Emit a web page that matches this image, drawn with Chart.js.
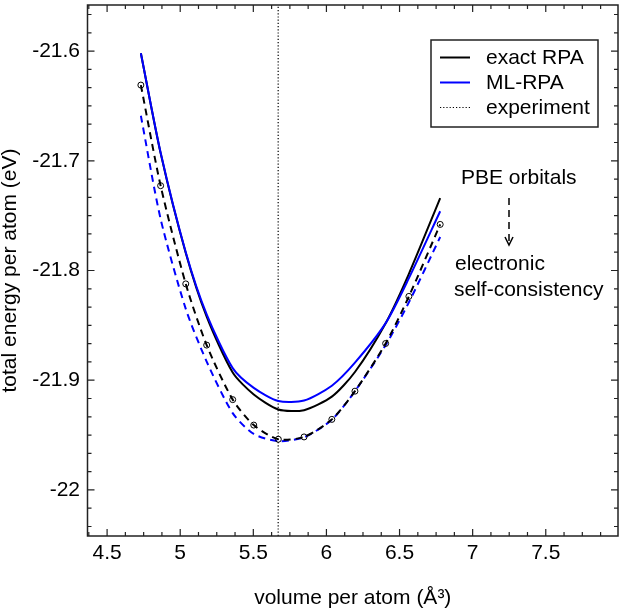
<!DOCTYPE html>
<html>
<head>
<meta charset="utf-8">
<script src="https://cdn.jsdelivr.net/npm/chart.js@4"></script>
<style>
  html, body { margin: 0; padding: 0; background: #fff; }
  #wrap { width: 623px; height: 612px; }
</style>
</head>
<body>
<div id="wrap"><canvas id="c" width="623" height="612"></canvas></div>
<script>
// ---------------- data ----------------
const volumes     = [4.731, 4.866, 5.038, 5.181, 5.359, 5.503, 5.671, 5.847, 6.037, 6.195, 6.405, 6.564, 6.778];
const exactRPA    = [-21.602, -21.693, -21.784, -21.842, -21.893, -21.913, -21.9267, -21.9273, -21.915, -21.8925, -21.848, -21.803, -21.734];
const mlRPA       = [-21.602, -21.6925, -21.7833, -21.840, -21.889, -21.907, -21.919, -21.9185, -21.905, -21.884, -21.848, -21.807, -21.746];
const exactRPAsc  = [-21.631, -21.7227, -21.8122, -21.868, -21.9177, -21.9409, -21.9538, -21.9517, -21.9357, -21.910, -21.8665, -21.8236, -21.758];
const mlRPAsc     = [-21.659, -21.753, -21.835, -21.883, -21.930, -21.949, -21.9555, -21.952, -21.936, -21.910, -21.868, -21.829, -21.7695];
const experimentVolume = 5.67;

const xRange = [4.366, 7.994];
const yRange = [-22.042, -21.558];
const xTicks = [4.5, 5, 5.5, 6, 6.5, 7, 7.5];
const xTickLabels = ["4.5", "5", "5.5", "6", "6.5", "7", "7.5"];
const yTicks = [-22, -21.9, -21.8, -21.7, -21.6];
const yTickLabels = ["-22", "-21.9", "-21.8", "-21.7", "-21.6"];

const legendLabels = ["exact RPA", "ML-RPA", "experiment"];
const annotationTop = "PBE orbitals";
const annotationBottom = ["electronic", "self-consistency"];

// ---------------- helpers ----------------
const FONT = "'Liberation Sans', Arial, Helvetica, sans-serif";
const BLUE = '#0000ff';
const pts = (xs, ys) => xs.map((x, i) => ({ x: x, y: ys[i] }));

const frameAndTicks = {
  id: 'frameAndTicks',
  afterDatasetsDraw(chart) {
    const ctx = chart.ctx;
    const a = chart.chartArea;
    const xs = chart.scales.x, ys = chart.scales.y;
    ctx.save();
    ctx.strokeStyle = '#222';
    ctx.lineWidth = 1.5;
    ctx.setLineDash([]);
    ctx.strokeRect(a.left, a.top, a.right - a.left, a.bottom - a.top);
    ctx.lineWidth = 1.2;
    const xStep = 0.125;
    for (let k = Math.ceil(xs.min / xStep); k * xStep <= xs.max; k++) {
      const v = k * xStep;
      const major = Math.abs(v * 2 - Math.round(v * 2)) < 1e-6;
      const len = major ? 7 : 4;
      const px = xs.getPixelForValue(v);
      if (px <= a.left + 0.5 || px >= a.right - 0.5) continue;
      ctx.beginPath();
      ctx.moveTo(px, a.bottom); ctx.lineTo(px, a.bottom - len);
      ctx.moveTo(px, a.top); ctx.lineTo(px, a.top + len);
      ctx.stroke();
    }
    const yStep = 0.1 / 6;
    for (let k = Math.ceil(ys.min / yStep - 1e-6); k * yStep <= ys.max + 1e-9; k++) {
      const v = k * yStep;
      const major = Math.abs(v * 10 - Math.round(v * 10)) < 1e-6;
      const len = major ? 7 : 4;
      const py = ys.getPixelForValue(v);
      if (py <= a.top + 0.5 || py >= a.bottom - 0.5) continue;
      ctx.beginPath();
      ctx.moveTo(a.left, py); ctx.lineTo(a.left + len, py);
      ctx.moveTo(a.right, py); ctx.lineTo(a.right - len, py);
      ctx.stroke();
    }
    ctx.restore();
  },
  afterDraw(chart) {
    const ctx = chart.ctx;
    const ds = chart.data.datasets;
    ctx.save();
    const bx = 431, by = 40, bw = 167, bh = 87;
    ctx.fillStyle = '#fff';
    ctx.fillRect(bx, by, bw, bh);
    ctx.strokeStyle = '#222';
    ctx.lineWidth = 1.5;
    ctx.setLineDash([]);
    ctx.strokeRect(bx, by, bw, bh);
    const rows = [57.5, 82.5, 107.5];
    const legendSets = [ds[3], ds[2], ds[4]];
    ctx.font = '21px ' + FONT;
    ctx.textBaseline = 'middle';
    ctx.textAlign = 'left';
    legendSets.forEach((d, i) => {
      ctx.beginPath();
      ctx.strokeStyle = d.borderColor;
      ctx.lineWidth = d.borderWidth;
      ctx.setLineDash(d.borderDash || []);
      ctx.moveTo(440, rows[i]); ctx.lineTo(470, rows[i]);
      ctx.stroke();
      ctx.fillStyle = '#000';
      ctx.fillText(legendLabels[i], 486, rows[i] + 1);
    });
    ctx.setLineDash([]);
    ctx.fillStyle = '#000';
    ctx.textBaseline = 'alphabetic';
    ctx.fillText(annotationTop, 461, 184);
    ctx.fillText(annotationBottom[0], 455, 270);
    ctx.fillText(annotationBottom[1], 454, 295.5);
    ctx.strokeStyle = '#000';
    ctx.lineWidth = 1.5;
    ctx.setLineDash([7, 5]);
    ctx.beginPath();
    ctx.moveTo(509, 198); ctx.lineTo(509, 243);
    ctx.stroke();
    ctx.setLineDash([]);
    ctx.beginPath();
    ctx.moveTo(505, 237); ctx.lineTo(509, 245); ctx.lineTo(513, 237);
    ctx.stroke();
    ctx.restore();
  }
};

const tickFont = { family: FONT, size: 21 };
const SMOOTH = 0.25;

new Chart(document.getElementById('c'), {
  type: 'line',
  data: {
    datasets: [
      { label: 'exact RPA (sc)', data: pts(volumes, exactRPAsc), borderColor: '#000', borderWidth: 2,
        borderDash: [7, 5], pointRadius: 3, pointBorderWidth: 1, pointBorderColor: '#000',
        pointBackgroundColor: 'rgba(0,0,0,0)', tension: SMOOTH, order: 1 },
      { label: 'ML-RPA (sc)', data: pts(volumes, mlRPAsc), borderColor: BLUE, borderWidth: 2,
        borderDash: [7, 5], pointRadius: 0, tension: SMOOTH, order: 2 },
      { label: legendLabels[1], data: pts(volumes, mlRPA), borderColor: BLUE, borderWidth: 2,
        pointRadius: 0, tension: SMOOTH, order: 3 },
      { label: legendLabels[0], data: pts(volumes, exactRPA), borderColor: '#000', borderWidth: 2,
        pointRadius: 0, tension: SMOOTH, order: 4 },
      { label: legendLabels[2], data: [{ x: experimentVolume, y: yRange[0] }, { x: experimentVolume, y: yRange[1] }],
        borderColor: '#000', borderWidth: 1.2, borderDash: [1.2, 2], pointRadius: 0, order: 5 }
    ]
  },
  options: {
    responsive: false,
    animation: false,
    devicePixelRatio: 1,
    layout: { padding: { top: 1, right: 1.7, left: 0, bottom: 0 } },
    plugins: { legend: { display: false }, tooltip: { enabled: false } },
    scales: {
      x: {
        type: 'linear', position: 'bottom', min: xRange[0], max: xRange[1],
        grid: { display: false, drawTicks: false }, border: { display: false },
        afterBuildTicks: s => { s.ticks = xTicks.map(v => ({ value: v })); },
        afterFit: s => { s.height = 76; s.paddingLeft = 0; s.paddingRight = 0; },
        ticks: { font: tickFont, color: '#000', padding: 5, maxRotation: 0, autoSkip: false,
                 callback: v => xTickLabels[xTicks.findIndex(t => Math.abs(t - v) < 1e-9)] },
        title: { display: true, text: 'volume per atom (Å³)', color: '#000',
                 font: { family: FONT, size: 21, lineHeight: 1 }, padding: { top: 0, bottom: 3 } }
      },
      y: {
        type: 'linear', position: 'left', min: yRange[0], max: yRange[1],
        grid: { display: false, drawTicks: false }, border: { display: false },
        afterBuildTicks: s => { s.ticks = yTicks.map(v => ({ value: v })); },
        afterFit: s => { s.width = 87.5; s.paddingTop = 0; s.paddingBottom = 0; },
        ticks: { font: tickFont, color: '#000', padding: 7.5, autoSkip: false,
                 callback: v => yTickLabels[yTicks.findIndex(t => Math.abs(t - v) < 1e-9)] },
        title: { display: true, text: 'total energy per atom (eV)', color: '#000',
                 font: { family: FONT, size: 21, lineHeight: 1 }, padding: { top: 0, bottom: 0 } }
      }
    }
  },
  plugins: [frameAndTicks]
});
</script>
</body>
</html>
